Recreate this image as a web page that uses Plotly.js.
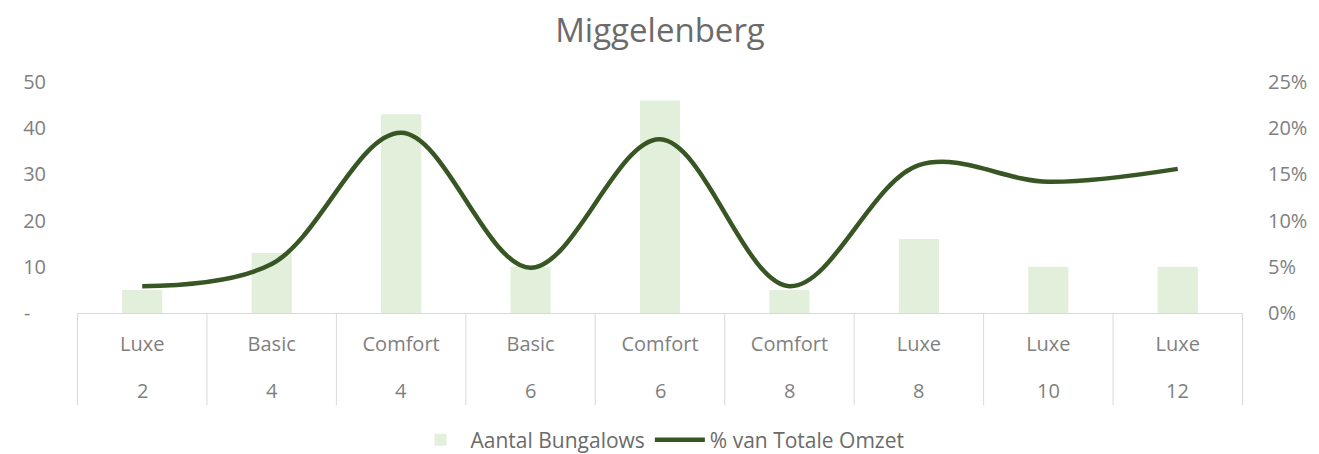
<!DOCTYPE html>
<html>
<head>
<meta charset="utf-8">
<script src="https://cdn.plot.ly/plotly-3.0.1.min.js"></script>
<style>html,body{margin:0;padding:0;background:#fff;}#chart{width:1319px;height:454px;}</style>
</head>
<body>
<div id="chart"></div>
<script>
// Data
const types = ["Luxe", "Basic", "Comfort", "Basic", "Comfort", "Comfort", "Luxe", "Luxe", "Luxe"];
const sizes = ["2", "4", "4", "6", "6", "8", "8", "10", "12"];
const bungalows = [5, 13, 43, 10, 46, 5, 16, 10, 10];
const omzetShare = [0.029, 0.053, 0.195, 0.049, 0.188, 0.029, 0.160, 0.142, 0.156];
const leftTickVals = [0, 10, 20, 30, 40, 50];
const leftTickText = ["-\u00a0\u00a0\u00a0", "10", "20", "30", "40", "50"];

const cats = types.map((t, i) => t + " " + sizes[i]);
const FONT = "Open Sans, Liberation Sans, sans-serif";
const axisGray = "#7f7f7f";
const lineGray = "#d9d9d9";

const traces = [
  {
    type: "bar", name: "Aantal Bungalows", x: cats, y: bungalows,
    marker: {color: "#E2EFDA"}, yaxis: "y", hoverinfo: "x+y"
  },
  {
    type: "scatter", mode: "lines", name: "% van Totale Omzet", x: cats, y: omzetShare,
    line: {color: "#375623", width: 4.5, shape: "spline", smoothing: 1}, yaxis: "y2"
  }
];

const plotH = 454 - 82 - 141;
const shapes = [];
for (let i = 0; i <= cats.length; i++) {
  shapes.push({type: "line", xref: "x", yref: "paper", x0: i - 0.5, x1: i - 0.5,
    y0: 0, y1: -(405 - 313) / plotH, line: {color: lineGray, width: 1}});
}
const annotations = cats.map((c, i) => ({
  xref: "x", yref: "paper", x: c, y: -(390 - 313) / plotH, yanchor: "middle",
  text: sizes[i], showarrow: false, font: {family: FONT, size: 20, color: axisGray}
}));

const layout = {
  width: 1319, height: 454,
  margin: {l: 77, r: 76, t: 82, b: 141, autoexpand: false},
  paper_bgcolor: "#ffffff", plot_bgcolor: "#ffffff",
  showlegend: true,
  title: {text: "Miggelenberg", x: 0.5, xanchor: "center", xref: "paper",
    y: 1 - 30 / 454, yref: "container", yanchor: "middle",
    font: {family: FONT, size: 33, color: "#6b6b6b"}},
  bargap: 0.69,
  xaxis: {type: "category", tickvals: cats, ticktext: types, showgrid: false,
    showline: true, linecolor: lineGray, linewidth: 1,
    ticks: "outside", ticklen: 13, tickcolor: "rgba(0,0,0,0)",
    tickfont: {family: FONT, size: 20, color: axisGray}, fixedrange: true, automargin: false},
  yaxis: {range: [0, 50], tickvals: leftTickVals, ticktext: leftTickText,
    showgrid: false, zeroline: false, showline: false,
    ticks: "outside", ticklen: 26, tickcolor: "rgba(0,0,0,0)",
    tickfont: {family: FONT, size: 20, color: axisGray}, automargin: false},
  yaxis2: {range: [0, 0.25], dtick: 0.05, tick0: 0, tickformat: ".0%", overlaying: "y", side: "right",
    showgrid: false, zeroline: false, showline: false,
    ticks: "outside", ticklen: 20, tickcolor: "rgba(0,0,0,0)",
    tickfont: {family: FONT, size: 20, color: axisGray}, automargin: false},
  legend: {orientation: "h", x: 0.5, xanchor: "center", xref: "paper",
    y: 1 - 440 / 454, yref: "container", yanchor: "middle",
    font: {family: FONT, size: 21, color: "#6b6b6b"}, itemwidth: 50, tracegroupgap: 0},
  shapes: shapes,
  annotations: annotations
};

Plotly.newPlot("chart", traces, layout, {displayModeBar: false, staticPlot: true});
</script>
</body>
</html>
